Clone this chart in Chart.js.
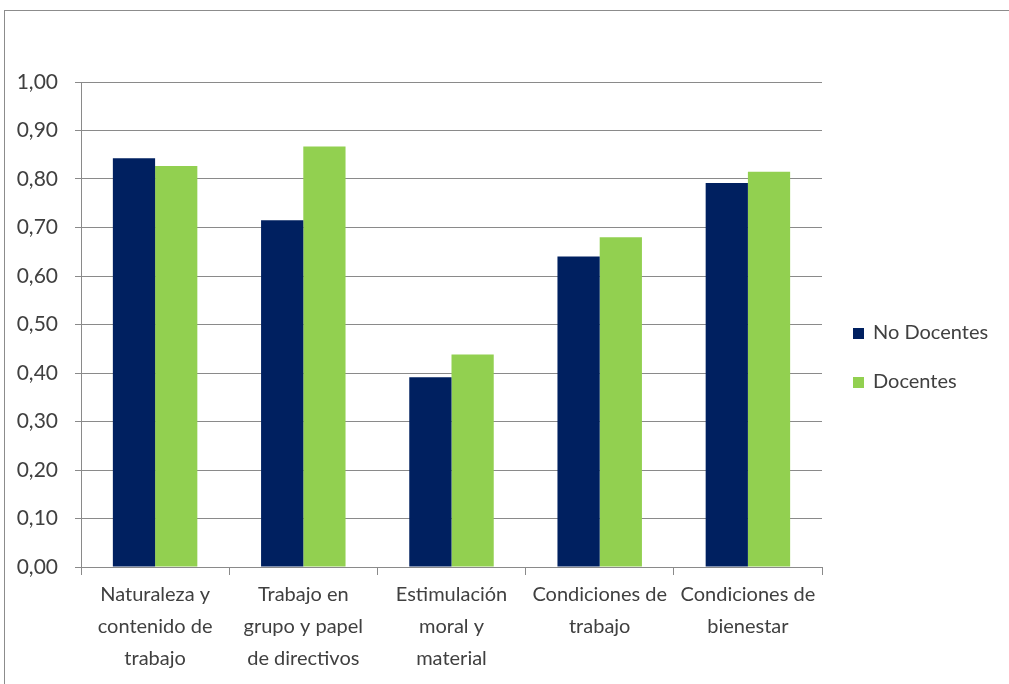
<!DOCTYPE html>
<html>
<head>
<meta charset="utf-8">
<script src="https://cdn.jsdelivr.net/npm/chart.js@4/dist/chart.umd.min.js"></script>
<style>
    html, body { margin: 0; padding: 0; background: #fff; }
    #wrap { position: relative; width: 1009px; height: 684px; overflow: hidden; }
    #frame { position: absolute; left: 4px; top: 10px; width: 1100px; height: 700px;
             border-top: 1px solid #8c8c8c; border-left: 1px solid #8c8c8c; }
    #graph { position: absolute; left: 0; top: 0; }
    #legend { position: absolute; left: 853px; top: 318px; font-family: Lato, sans-serif;
              font-size: 20px; color: #404040; }
    .item { height: 49px; line-height: 26px; white-space: nowrap; }
    .box { display: inline-block; width: 11px; height: 11px; margin-right: 9px; vertical-align: 0px; }
</style>
</head>
<body>
<div id="wrap">
    <div id="frame"></div>
    <canvas id="graph" width="1009" height="684"></canvas>
    <div id="legend"></div>
</div>
<script>
// categories and series
const categories = [
    ['Naturaleza y', 'contenido de', 'trabajo'],
    ['Trabajo en', 'grupo y papel', 'de directivos'],
    ['Estimulación', 'moral y', 'material'],
    ['Condiciones de', 'trabajo'],
    ['Condiciones de', 'bienestar']
];
const series_names = ['No Docentes', 'Docentes'];
const no_docentes = [0.843, 0.715, 0.391, 0.640, 0.792];
const docentes = [0.827, 0.867, 0.438, 0.680, 0.815];
const series_colors = ['#002060', '#92D050'];

const axis_grey = '#8a8a8a';
const text_grey = '#404040';

const data = {
    labels: categories,
    datasets: [no_docentes, docentes].map((vals, i) => ({
        label: series_names[i],
        data: vals,
        backgroundColor: series_colors[i],
        borderWidth: 0,
        categoryPercentage: 0.57,
        barPercentage: 1.0
    }))
};

const config = {
    type: 'bar',
    data: data,
    options: {
        responsive: false,
        animation: false,
        layout: { padding: { top: 82, right: 187, bottom: 0, left: 0 } },
        plugins: {
            legend: { display: false },
            tooltip: { enabled: false }
        },
        scales: {
            x: {
                grid: { drawOnChartArea: false, drawTicks: true, tickLength: 8, color: axis_grey, offset: true },
                border: { color: axis_grey },
                ticks: { color: text_grey, font: { family: 'Lato', size: 20, lineHeight: 1.6 }, padding: 4, maxRotation: 0, autoSkip: false },
                afterFit: function(scale) { scale.height = 117; }
            },
            y: {
                min: 0,
                max: 1,
                ticks: {
                    stepSize: 0.1,
                    color: text_grey,
                    font: { family: 'Lato', size: 21 },
                    padding: 17,
                    callback: v => v.toFixed(2).replace('.', ',')
                },
                grid: { color: axis_grey, tickLength: 6 },
                border: { color: axis_grey },
                afterFit: function(scale) { scale.width = 81; }
            }
        }
    }
};

// legend drawn next to the plot
function BuildLegend(){
    const legend = document.getElementById('legend');
    series_names.forEach((name, i) => {
        const item = document.createElement('div');
        item.className = 'item';
        const box = document.createElement('span');
        box.className = 'box';
        box.style.background = series_colors[i];
        item.appendChild(box);
        item.appendChild(document.createTextNode(name));
        legend.appendChild(item);
    });
}

window.onload = function() {
    BuildLegend();
    new Chart(document.getElementById('graph'), config);
}
</script>
</body>
</html>
